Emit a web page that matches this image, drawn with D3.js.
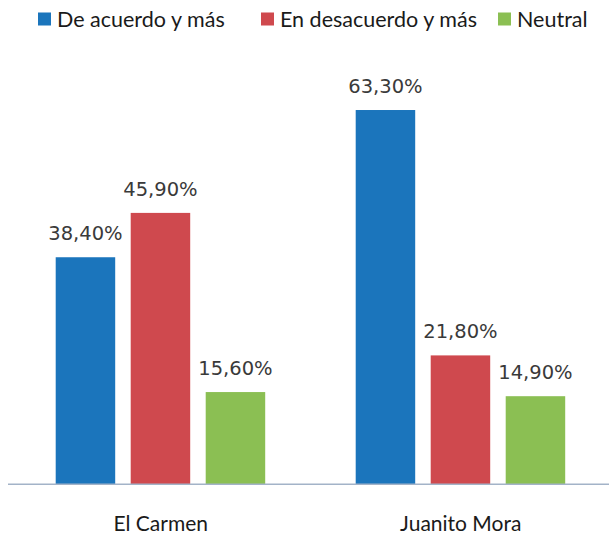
<!DOCTYPE html>
<html><head><meta charset="utf-8">
<script src="https://cdn.jsdelivr.net/npm/d3@7"></script>
<style>body{margin:0;background:#fff}svg{display:block}</style>
</head><body>
<script>
const categories = ["El Carmen", "Juanito Mora"];
const seriesNames = ["De acuerdo y más", "En desacuerdo y más", "Neutral"];
const deAcuerdo = [38.4, 63.3];
const enDesacuerdo = [45.9, 21.8];
const neutral = [15.6, 14.9];
const colors = ["#1b75bc", "#cf494e", "#8bbf53"];
const seriesValues = [deAcuerdo, enDesacuerdo, neutral];

const W = 609, H = 534;
const svg = d3.select("body").append("svg").attr("width", W).attr("height", H);
const font = "Lato, 'Open Sans', sans-serif";

const x0 = d3.scaleBand().domain(categories).range([10.7, 610.7]);
const inner = d3.scaleBand().domain(seriesNames).range([0, 209.5]).paddingInner(15.5 / 75).paddingOuter(0);
const groupOffset = 45;
const y = d3.scaleLinear().domain([0, 70]).range([484.3, 70.4]);

const fmt = v => v.toFixed(2).replace(".", ",") + "%";

categories.forEach((c, ci) => {
  const g = svg.append("g").attr("transform", `translate(${x0(c) + groupOffset},0)`);
  seriesNames.forEach((s, si) => {
    const v = seriesValues[si][ci];
    g.append("rect")
      .attr("x", inner(s)).attr("width", inner.bandwidth())
      .attr("y", y(v)).attr("height", y(0) - y(v))
      .attr("fill", colors[si]);
    g.append("text")
      .attr("x", inner(s) + inner.bandwidth() / 2)
      .attr("y", y(v) - 17)
      .attr("text-anchor", "middle")
      .attr("font-family", "'DejaVu Sans', sans-serif")
      .attr("font-size", 19.5)
      .attr("fill", "#3a3a3a")
      .text(fmt(v));
  });
});

// axis
const axis = d3.axisBottom(x0).tickSize(0).tickPadding(0);
const ax = svg.append("g").attr("transform", `translate(0,${y(0)})`).call(axis);
ax.select(".domain").attr("d", `M8,0H609`).attr("stroke", "#a3b3c8").attr("stroke-width", 1.5);
ax.selectAll(".tick text")
  .attr("y", 47).attr("dy", 0)
  .attr("font-family", font).attr("font-size", 21)
  .attr("fill", "#1a1a1a");

// legend
const legendX = [38, 261, 498];
const leg = svg.append("g");
seriesNames.forEach((s, i) => {
  leg.append("rect").attr("x", legendX[i]).attr("y", 12.5).attr("width", 13).attr("height", 13).attr("fill", colors[i]);
  leg.append("text").attr("x", legendX[i] + 19).attr("y", 27)
    .attr("font-family", font).attr("font-size", 21.5).attr("fill", "#1a1a1a").text(s);
});
</script>
</body></html>
